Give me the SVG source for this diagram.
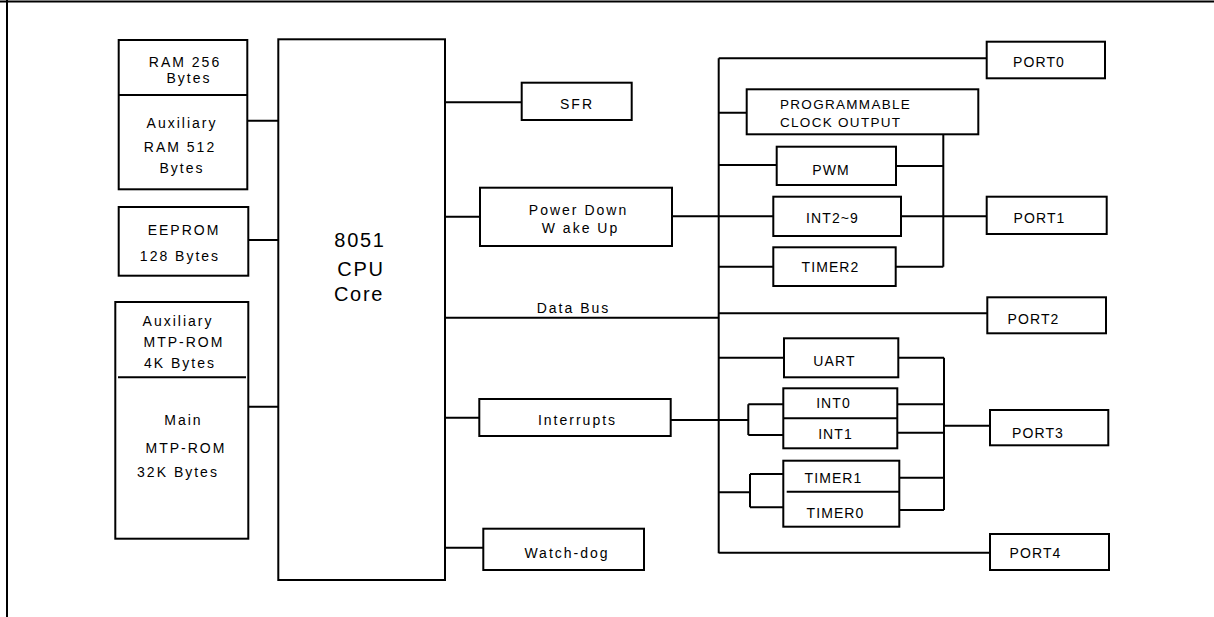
<svg xmlns="http://www.w3.org/2000/svg" width="1214" height="617" viewBox="0 0 1214 617">
<style>
.b{fill:#fff;stroke:#000;stroke-width:2}
.l{fill:none;stroke:#000;stroke-width:2}
text{font-family:"Liberation Sans",Arial,sans-serif;font-size:14px;fill:#000;text-anchor:middle;letter-spacing:2px}
.s{letter-spacing:1.1px}
.big{font-size:20px;letter-spacing:1.7px}
.lt{text-anchor:start;font-size:13.5px;letter-spacing:1.3px}
</style>
<rect width="1214" height="617" fill="#fff"/>
<g id="frame"><path class="l" d="M0 1.5H1214" stroke-width="3"/><path class="l" d="M7 0V617"/></g>
<g id="connectors">
<path class="l" d="M247 120.7H278.3M248 240H278.3M247 406.7H278.3"/>
<path class="l" d="M445 102.3H521.7M445 216.7H480M445 317.7H718.7M445 417.7H479.3M445 547.7H483.3"/>
<path class="l" d="M718.7 58.3V553.3M718.7 58.3H986.7M718.7 112.7H746.7M718.7 165H776.7M672 216.3H773.3M718.7 266.7H773.3M718.7 313.3H987.3M718.7 357.7H784M718.7 492.3H750M718.7 552.7H990"/>
<path class="l" d="M670.7 420H748.3M748.3 404.3V435M748.3 404.3H783.3M748.3 435H783.3"/>
<path class="l" d="M750 474V507.3M750 474H783.3M750 507.3H783.3"/>
<path class="l" d="M943.3 133.3V266.7M896 166H943.3M901 216.3H986.7M895.7 266.7H943.3"/>
<path class="l" d="M944 357.7V510M898.3 357.7H944M897.3 404.3H944M897.3 432.7H944M899.3 477.7H944M899.3 510H944M944 425.7H990"/>
</g>
<g id="ram"><rect class="b" x="118.7" y="40" width="128.6" height="149.3"/><path class="l" d="M118.7 95H247.3"/>
<text x="185" y="66.7">RAM 256</text><text x="189" y="83">Bytes</text>
<text x="182" y="128">Auxiliary</text><text x="180" y="152">RAM 512</text><text x="182" y="173">Bytes</text></g>
<g id="eeprom"><rect class="b" x="118.7" y="207" width="129.6" height="68.7"/>
<text x="184" y="235">EEPROM</text><text x="180" y="260.7">128 Bytes</text></g>
<g id="mtp"><rect class="b" x="115.3" y="302" width="133" height="236.7"/><path class="l" d="M118 377.3H246"/>
<text x="178" y="326">Auxiliary</text><text x="184" y="347.3">MTP-ROM</text><text x="180" y="367.7">4K Bytes</text>
<text x="183.5" y="425">Main</text><text x="186" y="452.7">MTP-ROM</text><text x="178" y="477">32K Bytes</text></g>
<g id="cpu"><rect class="b" x="278.3" y="39.3" width="166.7" height="540.7"/>
<text class="big" x="360" y="247.3">8051</text><text class="big" x="361" y="276">CPU</text><text class="big" x="359" y="301">Core</text></g>
<g id="sfr"><rect class="b" x="521.7" y="82.7" width="110" height="37.3"/><text x="577" y="109">SFR</text></g>
<g id="powerdown"><rect class="b" x="480" y="187.7" width="192" height="58.3"/><text x="578.5" y="215">Power Down</text><text x="580.5" y="233.3">W ake Up</text></g>
<g id="databus-label"><text x="573.5" y="312.7">Data Bus</text></g>
<g id="interrupts"><rect class="b" x="479.3" y="399" width="191.4" height="37"/><text x="577.5" y="425">Interrupts</text></g>
<g id="watchdog"><rect class="b" x="483.3" y="528.7" width="160.7" height="41.3"/><text x="567" y="558.3">Watch-dog</text></g>
<g id="clkout"><rect class="b" x="746.7" y="89.3" width="231.6" height="45"/><text class="lt" x="780" y="109">PROGRAMMABLE</text><text class="lt" x="780" y="127.3">CLOCK OUTPUT</text></g>
<g id="pwm"><rect class="b" x="776.7" y="146.7" width="119.3" height="38.3"/><text class="s" x="831" y="175">PWM</text></g>
<g id="int29"><rect class="b" x="773.3" y="196.7" width="127.7" height="39.3"/><text class="s" x="832.5" y="222.7">INT2~9</text></g>
<g id="timer2"><rect class="b" x="773.3" y="247.3" width="122.4" height="38.7"/><text class="s" x="830.5" y="271.7">TIMER2</text></g>
<g id="uart"><rect class="b" x="784" y="338.3" width="114.3" height="39"/><text class="s" x="834.5" y="366">UART</text></g>
<g id="int01"><rect class="b" x="783.3" y="388.3" width="114" height="60"/><path class="l" d="M783.3 418.3H897.3"/><text class="s" x="833.5" y="408.3">INT0</text><text class="s" x="835.5" y="439">INT1</text></g>
<g id="timer01"><rect class="b" x="783.3" y="460.7" width="116" height="66"/><path class="l" d="M786.7 491.7H899.3"/><text class="s" x="833.5" y="483.3">TIMER1</text><text class="s" x="835.5" y="518.3">TIMER0</text></g>
<g id="port0"><rect class="b" x="986.7" y="41.7" width="118.3" height="36.6"/><text class="s" x="1039" y="66.7">PORT0</text></g>
<g id="port1"><rect class="b" x="986.7" y="196.7" width="120" height="37.3"/><text class="s" x="1039.5" y="223.3">PORT1</text></g>
<g id="port2"><rect class="b" x="987.3" y="297.3" width="118.7" height="36"/><text class="s" x="1033.5" y="324">PORT2</text></g>
<g id="port3"><rect class="b" x="990" y="410" width="118.3" height="35.3"/><text class="s" x="1038" y="438.3">PORT3</text></g>
<g id="port4"><rect class="b" x="990" y="534" width="119" height="36"/><text class="s" x="1035.5" y="558.3">PORT4</text></g>
</svg>
